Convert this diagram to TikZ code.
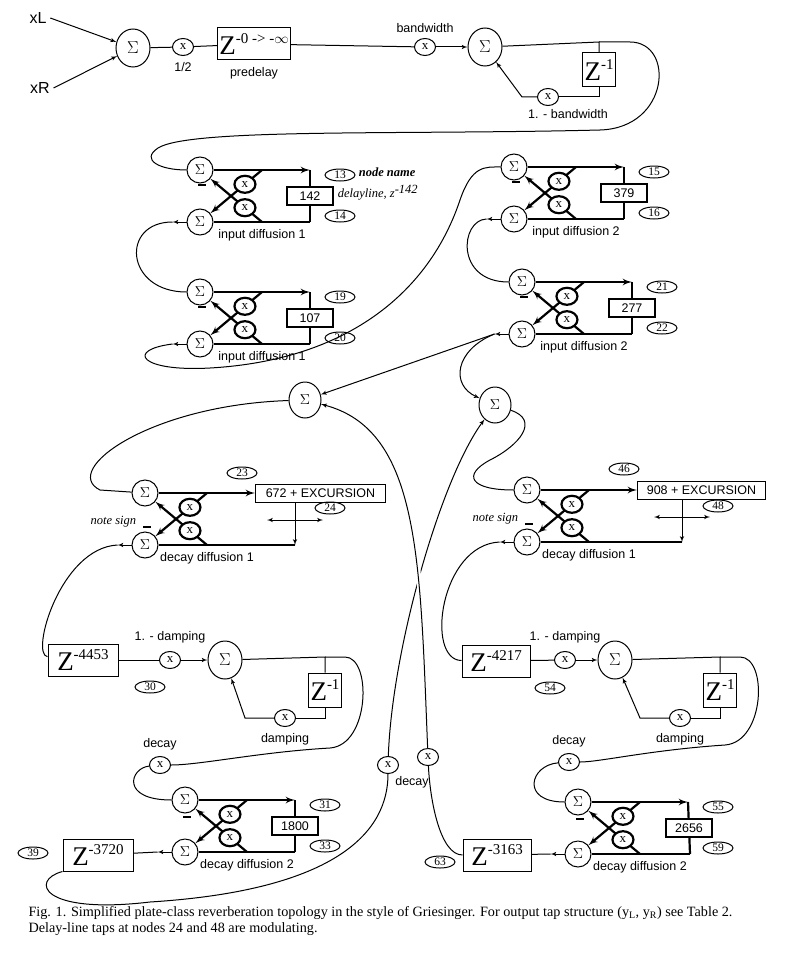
\documentclass[tikz,border=0pt]{standalone}
\usepackage{fontspec}
\setmainfont{Liberation Serif}
\setsansfont{Liberation Sans}
\usetikzlibrary{shapes, arrows, positioning, calc}
\tikzstyle{sum}  = [draw, ellipse, minimum width=26pt, minimum height=26pt, inner sep=0pt, font=\fontsize{15}{15}\selectfont]
\tikzstyle{bsum} = [sum, minimum width=34pt, minimum height=38pt, font=\fontsize{19}{19}\selectfont]
\tikzstyle{mul}  = [draw, ellipse, fill=white, minimum width=21pt, minimum height=17pt, inner sep=0pt, font=\fontsize{13}{13}\selectfont]
\tikzstyle{tag}  = [draw, ellipse, minimum width=30pt, minimum height=12pt, inner sep=0pt, font=\fontsize{11.5}{11.5}\selectfont]
\tikzstyle{dly}  = [draw, fill=white, minimum width=46pt, minimum height=18pt, inner sep=1pt, font=\sffamily\fontsize{12.5}{12.5}\selectfont]
\tikzstyle{zbox} = [draw, fill=white, minimum height=32pt, inner sep=2pt]
\tikzstyle{lbl}  = [font=\sffamily\fontsize{12.5}{12.5}\selectfont]
\tikzstyle{note} = [font=\itshape\fontsize{12.5}{12.5}\selectfont]
\tikzstyle{thk}  = [line width=2.2pt]
\newcommand{\zz}[1]{{\fontsize{27}{27}\selectfont Z}\raisebox{11pt}{\fontsize{15}{15}\selectfont #1}}

% lattice: name, X, Y, bottom corner offset, label, minus offset
\newcommand{\lattice}[6]{
  \node[sum] (#1t) at (#2,#3) {$\Sigma$};
  \node[sum] (#1b) at (#2,#3+52) {$\Sigma$};
  \coordinate (#1e) at (#2+110,#3);
  \coordinate (#1f) at (#2+#4,#3+52);
  \coordinate (#1p) at (#2+62,#3);
  \coordinate (#1q) at (#2+62,#3+52);
  \draw[thk, ->] (#1t) -- (#1e);
  \draw[thk] (#1f) -- (#1b);
  \draw[thk, ->] (#1p) -- node[mul, pos=.33] {x} (#1b);
  \draw[thk, ->] (#1q) -- node[mul, pos=.33] {x} (#1t);
  \draw[line width=1.5pt] (#2-2,#3+#6) -- ++(8,0);
  \draw[->] (#1b.west) -- ++(-14,0) coordinate (#1o);
  \node[lbl] at (#2+62,#3+65) {#5};
}
% plain delay line: name, length, top tag, bottom tag
\newcommand{\tapbox}[4]{
  \draw[thk] (#1e) -- node[dly] (#1d) {#2} (#1f);
  \node[tag] at ($(#1e)+(30,5)$) {#3};
  \node[tag] at ($(#1e)+(30,46)$) {#4};
}

\begin{document}
\begin{tikzpicture}[x=1pt, y=-1pt, >=latex', line width=1pt]
\useasboundingbox (0,0) rectangle (791,955);

% input, predelay, bandwidth
\node[font=\sffamily\fontsize{16}{16}\selectfont] (xl) at (38,18) {xL};
\node[font=\sffamily\fontsize{16}{16}\selectfont] (xr) at (40,88) {xR};
\node[bsum] (in) at (133,48) {$\Sigma$};
\draw[->] (xl.east) -- (in);
\draw[->] (xr.east) -- (in);
\node[mul] (half) at (183,47) {x};
\node[lbl, below=3pt of half] {1/2};
\node[zbox, minimum width=72pt] (pre) at (254,44) {\zz{-0 -> -$\infty$}};
\node[lbl, below=3pt of pre] {predelay};
\node[mul] (bw) at (425,47) {x};
\node[lbl, above=2pt of bw] {bandwidth};
\node[bsum] (bwsum) at (485,47) {$\Sigma$};
\node[zbox, minimum width=28pt, minimum height=34pt] (bwz) at (599,70) {\zz{-1}};
\node[mul] (bw1) at (548,97) {x};
\node[lbl] at (568,114) {1. - bandwidth};
\draw (in) -- (half) -- (pre) -- (bw);
\draw[->] (bw) -- (bwsum);
\draw (bwsum) -- (599,42) coordinate (bwtap) -- (bwz);
\draw (bwz) |- (bw1);
\draw[->] (bw1) -- ++(-26,0) -- (bwsum);

% input diffusers
\lattice{ida}{200}{170}{110}{input diffusion 1}{15}
\tapbox{ida}{142}{13}{14}
\node[note, anchor=west] at (355,172) {\bfseries node name};
\node[note, anchor=west] at (334,193) {delayline, z$^{\textit{-142}}$};
\lattice{idb}{200}{292}{110}{input diffusion 1}{15}
\tapbox{idb}{107}{19}{20}
\lattice{idc}{514}{167}{110}{input diffusion 2}{15}
\tapbox{idc}{379}{15}{16}
\lattice{idd}{522}{282}{110}{input diffusion 2}{15}
\tapbox{idd}{277}{21}{22}

\draw (bwtap) -- (630,42) .. controls (675,42) and (670,128) .. (600,130)
      .. controls (400,135) and (190,128) .. (158,148) .. controls (140,160) and (160,170) .. (idat);
\draw (idao) .. controls (120,222) and (125,292) .. (idbt);
\draw (idbo) .. controls (125,350) and (140,372) .. (210,368)
      .. controls (350,360) and (430,290) .. (460,200) .. controls (472,165) and (485,167) .. (idct);
\draw (idco) .. controls (460,220) and (455,282) .. (iddt);

% tank input sums
\node[sum, minimum width=32pt, minimum height=36pt] (ls) at (305,400) {$\Sigma$};
\node[sum, minimum width=32pt, minimum height=36pt] (rs) at (495,405) {$\Sigma$};
\draw[->] (iddo) -- (ls);
\draw[->] (iddo) .. controls (455,350) and (450,385) .. (rs);

% left tank
\lattice{dda}{145}{493}{150}{decay diffusion 1}{34}
\node[dly, anchor=west, minimum width=130pt] (ddax) at (ddae) {672 + EXCURSION};
\draw[->] (ddax.south -| ddaf) -- (ddaf);
\draw[<->] ($(ddaf)+(-28,-25)$) -- ++(56,0);
\node[tag] at (242,473) {23};
\node[tag] at (330,508) {24};
\node[note, anchor=east] at (140,522) {note sign};
\draw (ls) .. controls (150,405) and (60,470) .. (100,490) -- (ddat);

\node[zbox, minimum width=70pt] (zla) at (83,660) {\zz{-4453}};
\node[tag] at (150,687) {30};
\node[mul] (dl1) at (170,660) {x};
\node[lbl, above=4pt of dl1] {1. - damping};
\node[bsum] (dls) at (225,660) {$\Sigma$};
\node[zbox, minimum width=28pt, minimum height=34pt] (dlz) at (325,690) {\zz{-1}};
\node[mul] (dl2) at (285,718) {x};
\node[lbl, below=3pt of dl2] {damping};
\node[mul] (dcl) at (160,765) {x};
\node[lbl, above=2pt of dcl] {decay};
\draw (ddao) .. controls (60,548) and (30,655) .. (zla);
\draw (zla) -- (dl1);
\draw[->] (dl1) -- (dls);
\draw (dls) -- (325,657) coordinate (dltap) -- (dlz);
\draw (dlz) |- (dl2);
\draw[->] (dl2) -- ++(-40,0) -- (dls);
\draw (dltap) -- (345,657) .. controls (372,657) and (370,745) .. (330,748)
      .. controls (260,752) and (200,765) .. (dcl);
\lattice{ddb}{185}{800}{110}{decay diffusion 2}{17}
\tapbox{ddb}{1800}{31}{33}
\draw (dcl) .. controls (130,768) and (120,800) .. (ddbt);
\node[zbox, minimum width=70pt] (zlb) at (98,855) {\zz{-3720}};
\node[tag] at (33,853) {39};
\draw (ddbo) -- (zlb);

% right tank
\lattice{ddc}{527}{490}{155}{decay diffusion 1}{34}
\node[dly, anchor=west, minimum width=128pt] (ddcx) at (ddce) {908 + EXCURSION};
\draw[->] (ddcx.south -| ddcf) -- (ddcf);
\draw[<->] ($(ddcf)+(-28,-25)$) -- ++(56,0);
\node[tag] at (624,469) {46};
\node[tag] at (718,506) {48};
\node[note, anchor=east] at (522,519) {note sign};
\draw (rs) .. controls (540,420) and (520,445) .. (490,460) .. controls (462,475) and (470,490) .. (ddct);

\node[zbox, minimum width=68pt] (zra) at (496,661) {\zz{-4217}};
\node[tag] at (550,688) {54};
\node[mul] (dr1) at (565,660) {x};
\node[lbl, above=4pt of dr1] {1. - damping};
\node[bsum] (drs) at (615,660) {$\Sigma$};
\node[zbox, minimum width=28pt, minimum height=34pt] (drz) at (720,690) {\zz{-1}};
\node[mul] (dr2) at (680,718) {x};
\node[lbl, below=3pt of dr2] {damping};
\node[mul] (dcr) at (569,762) {x};
\node[lbl, above=2pt of dcr] {decay};
\draw (ddco) .. controls (440,545) and (425,660) .. (zra);
\draw (zra) -- (dr1);
\draw[->] (dr1) -- (drs);
\draw (drs) -- (720,657) coordinate (drtap) -- (drz);
\draw (drz) |- (dr2);
\draw[->] (dr2) -- ++(-40,0) -- (drs);
\draw (drtap) -- (740,657) .. controls (768,657) and (765,742) .. (725,745)
      .. controls (650,750) and (600,762) .. (dcr);
\lattice{ddd}{578}{802}{112}{decay diffusion 2}{17}
\tapbox{ddd}{2656}{55}{59}
\draw (dcr) .. controls (530,765) and (520,802) .. (dddt);
\node[zbox, minimum width=68pt] (zrb) at (497,855) {\zz{-3163}};
\node[tag] at (440,862) {63};
\draw (dddo) -- (zrb);

% cross feeds
\node[mul] (xl2) at (388,765) {x};
\node[mul] (xr2) at (428,757) {x};
\node[lbl] at (412,782) {decay};
\draw (zlb.south west) .. controls (30,880) and (40,915) .. (150,902)
      .. controls (340,890) and (388,830) .. (xl2);
\draw[->] (xl2) .. controls (392,650) and (440,480) .. (rs);
\draw (zrb.west) .. controls (440,855) and (430,800) .. (xr2);
\draw[->, preaction={draw=white, line width=5pt}] (xr2) .. controls (420,560) and (420,430) .. (ls);

% caption
\node[anchor=north west, align=left, font=\fontsize{14.2}{16}\selectfont, inner sep=0pt] (cap) at (28,906)
  {Fig. 1. Simplified plate-class reverberation topology in the style of Griesinger. For output tap structure (y$_\mathrm{L}$, y$_\mathrm{R}$) see Table 2.\\
   Delay-line taps at nodes 24 and 48 are modulating.};
\end{tikzpicture}
\end{document}
